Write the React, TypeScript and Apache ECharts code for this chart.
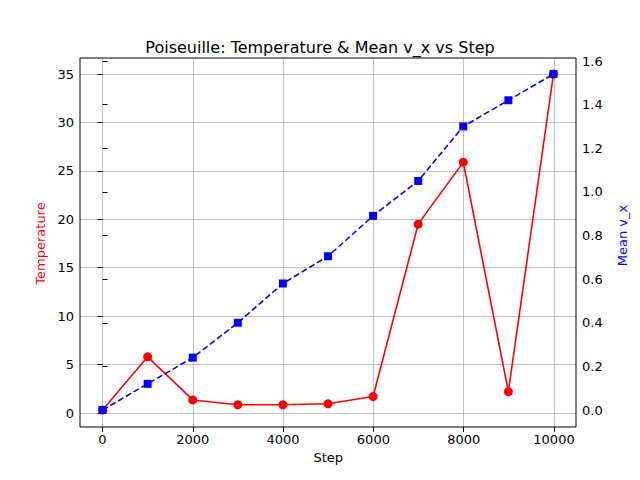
import React, { useEffect, useRef } from "react";
import * as echarts from "echarts";

const steps = [0, 1000, 2000, 3000, 4000, 5000, 6000, 7000, 8000, 9000, 10000];
const temperature = [0.3, 5.8, 1.35, 0.85, 0.85, 0.95, 1.7, 19.5, 25.9, 2.2, 35.0];
const meanVx = [0.0, 0.12, 0.24, 0.4, 0.58, 0.705, 0.89, 1.05, 1.3, 1.42, 1.54];

export default function App() {
  const ref = useRef<HTMLDivElement>(null);
  useEffect(() => {
    const chart = echarts.init(ref.current!, null, { renderer: "svg" });
    const font = "DejaVu Sans";
    const lbl = { color: "#000", fontSize: 13, fontFamily: font };
    const grid = { color: "#b0b0b0", width: 0.8 };
    const tick = { show: true, length: 5, lineStyle: { color: "#000" } };
    chart.setOption({
      animation: false,
      textStyle: { fontFamily: font },
      title: {
        text: "Poiseuille: Temperature & Mean v_x vs Step",
        left: "center", top: 34,
        textStyle: { fontSize: 16, fontWeight: "normal", color: "#000", fontFamily: font },
      },
      graphic: [{
        type: "rect", shape: { x: 80, y: 58, width: 496, height: 369 },
        style: { fill: "none", stroke: "#000", lineWidth: 1 }, z: 10,
      }],
      grid: [
        { left: 80, right: 64, top: 74, bottom: 67 },
        { left: 80, right: 64, top: 61, bottom: 70 },
        { left: 102.5, right: 86, top: 58, bottom: 53 },
      ],
      xAxis: [
        { type: "value", gridIndex: 0, min: -500, max: 10500, show: false },
        { type: "value", gridIndex: 1, min: -500, max: 10500, show: false },
        {
          type: "value", gridIndex: 2, min: 0, max: 10000, interval: 2000,
          name: "Step", nameLocation: "middle", nameGap: 22,
          nameTextStyle: { ...lbl },
          axisLine: { show: false },
          axisTick: tick,
          axisLabel: { ...lbl, margin: 6, formatter: (v: number) => String(v) },
          splitLine: { show: true, lineStyle: grid },
        },
      ],
      yAxis: [
        {
          type: "value", gridIndex: 0, min: 0, max: 35, interval: 5,
          name: "Temperature", nameLocation: "middle", nameGap: 28,
          nameTextStyle: { ...lbl, color: "red" },
          axisLine: { show: false },
          axisTick: tick,
          axisLabel: { ...lbl, margin: 6 },
          splitLine: { show: true, lineStyle: grid },
        },
        {
          type: "value", gridIndex: 1, position: "right", min: 0, max: 1.6, interval: 0.2,
          name: "Mean v_x", nameLocation: "middle", nameGap: 40,
          nameTextStyle: { ...lbl, color: "blue" },
          axisLine: { show: false },
          axisTick: tick,
          axisLabel: { ...lbl, margin: 6, formatter: (v: number) => v.toFixed(1) },
          splitLine: { show: false },
        },
        { type: "value", gridIndex: 2, min: 0, max: 1, show: false },
      ],
      series: [
        {
          type: "line", xAxisIndex: 0, yAxisIndex: 0,
          data: steps.map((s, i) => [s, temperature[i]]),
          symbol: "circle", symbolSize: 9,
          lineStyle: { color: "red", width: 1.6 }, itemStyle: { color: "red" },
        },
        {
          type: "line", xAxisIndex: 1, yAxisIndex: 1,
          data: steps.map((s, i) => [s, meanVx[i]]),
          symbol: "rect", symbolSize: 8,
          lineStyle: { color: "blue", width: 1.6, type: [6, 3] }, itemStyle: { color: "blue" },
        },
      ],
    });
    return () => chart.dispose();
  }, []);
  return <div ref={ref} style={{ width: 640, height: 480, margin: -8 }} />;
}
